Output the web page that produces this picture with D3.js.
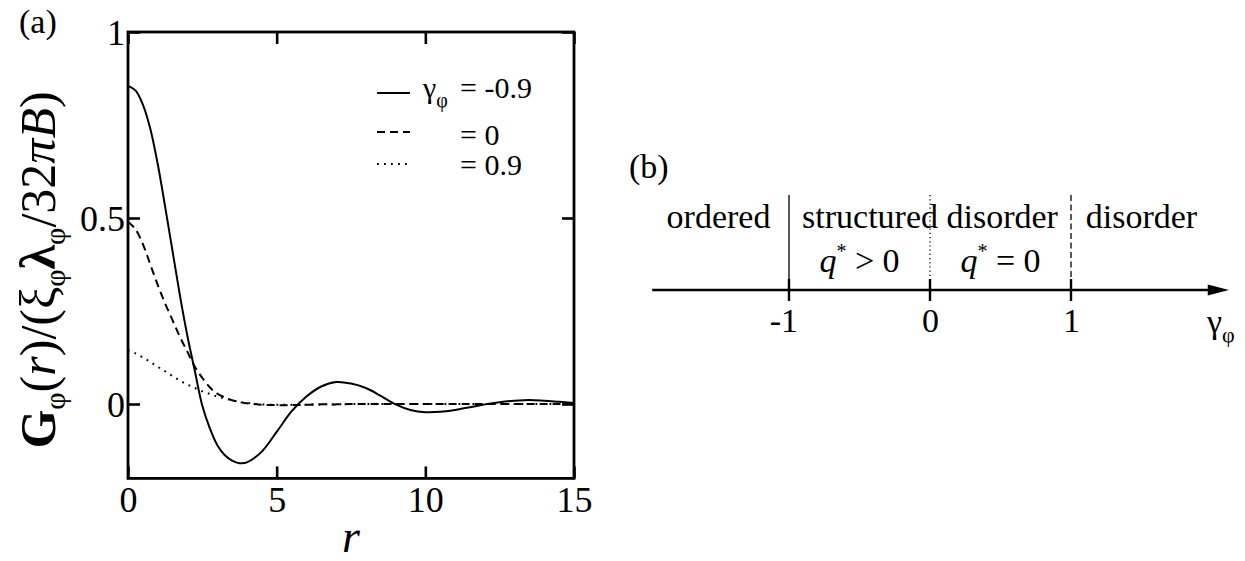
<!DOCTYPE html>
<html>
<head>
<meta charset="utf-8">
<script src="https://cdn.jsdelivr.net/npm/d3@7"></script>
<style>
  html, body { margin: 0; padding: 0; background: #fff; }
  svg { display: block; }
  text { font-family: "Liberation Serif", "Times New Roman", serif; fill: #000; }
</style>
</head>
<body>
<svg id="chart" width="1245" height="561"></svg>
<script>
// ---- Panel (a): correlation function G_phi(r) for three values of gamma_phi ----
const rGrid = [0, 0.25, 0.5, 0.75, 1, 1.25, 1.5, 1.75, 2, 2.25, 2.5, 2.75, 3, 3.25, 3.5, 3.75, 4,
               4.5, 5, 5.5, 6, 6.5, 7, 7.5, 8, 8.5, 9, 9.5, 10, 10.5, 11, 11.5, 12, 12.5, 13, 13.5, 14, 14.5, 15];
const gMinus09 = [0.855, 0.843, 0.805, 0.74, 0.645, 0.53, 0.41, 0.29, 0.182, 0.088, -0.005, -0.065, -0.11, -0.137, -0.152, -0.159, -0.157,
                  -0.128, -0.075, -0.02, 0.02, 0.047, 0.059, 0.055, 0.043, 0.022, -0.001, -0.016, -0.022, -0.021, -0.016, -0.009, -0.001, 0.005, 0.009, 0.011, 0.009, 0.006, 0.003];
const gZero = [0.49, 0.47, 0.43, 0.375, 0.32, 0.27, 0.225, 0.18, 0.14, 0.10, 0.07, 0.045, 0.028, 0.018, 0.01, 0.005, 0.002,
               -0.002, -0.003, -0.003, -0.002, -0.001, -0.001, 0, 0, 0, 0, 0, 0, 0, 0, 0, 0, 0, 0, 0, 0, 0, 0];
const gPlus09 = [0.145, 0.136, 0.125, 0.113, 0.100, 0.088, 0.075, 0.063, 0.052, 0.043, 0.034, 0.027, 0.02, 0.015, 0.01, 0.006, 0.003,
                 -0.001, -0.002, -0.002, -0.002, -0.001, -0.001, 0, 0, 0, 0, 0, 0, 0, 0, 0, 0, 0, 0, 0, 0, 0, 0];
const legendValues = ["-0.9", "0", "0.9"];
const xTickValues = [0, 5, 10, 15];
const yTickValues = [0, 0.5, 1];
const yTickLabels = ["0", "0.5", "1"];

// ---- Panel (b): phase line in gamma_phi ----
const gammaTicks = [-1, 0, 1];
const gammaTickLabels = ["-1", "0", "1"];
const regionNames = ["ordered", "structured disorder", "disorder"];
const regionCenters = [-1.5, 0, 1.5];
const qConditions = ["> 0", "= 0"];
const qCenters = [-0.5, 0.5];

const svg = d3.select("#chart");
const serif = '"Liberation Serif", "Times New Roman", serif';

// Plot frame of panel (a)
const box = { left: 128, right: 574, top: 32, bottom: 478.4 };
const x = d3.scaleLinear().domain([0, 15]).range([box.left, box.right]);
const y = d3.scaleLinear().domain([-0.2, 1]).range([box.bottom, box.top]);

const tickFont = 36;
const gA = svg.append("g");

function styleAxis(g) {
  g.select(".domain").remove();
  g.selectAll(".tick line").attr("stroke", "#000").attr("stroke-width", 2.6);
}

// bottom ticks with labels
gA.append("g")
  .attr("transform", `translate(0,${box.bottom})`)
  .call(d3.axisBottom(x).tickValues(xTickValues).tickSize(-12).tickSizeOuter(0).tickFormat(d3.format("d")))
  .call(styleAxis)
  .call(g => g.selectAll(".tick text")
    .attr("y", 34).attr("dy", 0)
    .style("font-family", serif).style("font-size", tickFont + "px"));

// top ticks
gA.append("g")
  .attr("transform", `translate(0,${box.top})`)
  .call(d3.axisTop(x).tickValues(xTickValues).tickSize(-12).tickSizeOuter(0).tickFormat(""))
  .call(styleAxis);

// left ticks with labels
gA.append("g")
  .attr("transform", `translate(${box.left},0)`)
  .call(d3.axisLeft(y).tickValues(yTickValues).tickSize(-12).tickSizeOuter(0)
    .tickFormat((d, i) => yTickLabels[i]))
  .call(styleAxis)
  .call(g => g.selectAll(".tick text")
    .attr("x", -3).attr("dy", "0.35em")
    .style("font-family", serif).style("font-size", tickFont + "px"));

// right ticks
gA.append("g")
  .attr("transform", `translate(${box.right},0)`)
  .call(d3.axisRight(y).tickValues(yTickValues).tickSize(-12).tickSizeOuter(0).tickFormat(""))
  .call(styleAxis);

// curves
const series = [
  { values: gMinus09, dash: null, width: 2.0 },
  { values: gZero, dash: "8,5", width: 2.0 },
  { values: gPlus09, dash: "1.8,5.2", width: 2.0 }
];

svg.append("clipPath").attr("id", "plotClip")
  .append("rect")
  .attr("x", box.left).attr("y", box.top)
  .attr("width", box.right - box.left).attr("height", box.bottom - box.top);

const line = d3.line()
  .x(d => x(d[0]))
  .y(d => y(d[1]))
  .curve(d3.curveCatmullRom.alpha(0.5));

gA.append("g").attr("clip-path", "url(#plotClip)")
  .selectAll("path")
  .data(series)
  .join("path")
  .attr("d", s => line(rGrid.map((r, i) => [r, s.values[i]])))
  .attr("fill", "none")
  .attr("stroke", "#000")
  .attr("stroke-width", s => s.width)
  .attr("stroke-dasharray", s => s.dash);

// frame
gA.append("rect")
  .attr("x", box.left).attr("y", box.top)
  .attr("width", box.right - box.left).attr("height", box.bottom - box.top)
  .attr("fill", "none").attr("stroke", "#000").attr("stroke-width", 2.8);

// legend
const legendRows = [
  { lineY: 93, textY: 98 },
  { lineY: 132, textY: 145 },
  { lineY: 164, textY: 175 }
];
const legendFont = 30;
const lg = gA.append("g");
series.forEach((s, i) => {
  lg.append("line")
    .attr("x1", 377).attr("x2", 410)
    .attr("y1", legendRows[i].lineY).attr("y2", legendRows[i].lineY)
    .attr("stroke", "#000").attr("stroke-width", s.width)
    .attr("stroke-dasharray", s.dash);
  if (i === 0) {
    const t = lg.append("text").attr("x", 423).attr("y", legendRows[i].textY)
      .style("font-size", legendFont + "px");
    t.append("tspan").text("γ");
    t.append("tspan").attr("dy", 9).style("font-size", "20px").text("φ");
  }
  lg.append("text").attr("x", 460).attr("y", legendRows[i].textY)
    .style("font-size", legendFont + "px")
    .text("= " + legendValues[i]);
});

// axis titles
svg.append("text")
  .attr("x", (box.left + box.right) / 2).attr("y", 552)
  .attr("text-anchor", "middle")
  .style("font-size", "46px").style("font-style", "italic")
  .text("r");

const yl = svg.append("text")
  .attr("transform", "translate(55,270) rotate(-90)")
  .attr("text-anchor", "middle")
  .style("font-size", "50px");
yl.append("tspan").style("font-weight", "bold").text("G");
yl.append("tspan").attr("dy", 10).style("font-size", "30px").text("φ");
yl.append("tspan").attr("dy", -10).text("(");
yl.append("tspan").style("font-style", "italic").text("r");
yl.append("tspan").text(")/(ξ");
yl.append("tspan").attr("dy", 10).style("font-size", "30px").text("φ");
yl.append("tspan").attr("dy", -10).style("font-weight", "bold").text("λ");
yl.append("tspan").attr("dy", 10).style("font-size", "30px").text("φ");
yl.append("tspan").attr("dy", -10).text("/32");
yl.append("tspan").style("font-style", "italic").text("πB");
yl.append("tspan").text(")");

svg.append("text").attr("x", 19).attr("y", 33)
  .style("font-size", "34px").text("(a)");

// ---- panel (b) ----
const gx = d3.scaleLinear().domain([-1, 1]).range([789, 1071]);
const axisY = 290;
const gB = svg.append("g");
const bFont = 34;

svg.append("text").attr("x", 629).attr("y", 178)
  .style("font-size", bFont + "px").text("(b)");

// main axis with arrow
gB.append("line")
  .attr("x1", gx(-1.97)).attr("x2", gx(2.0))
  .attr("y1", axisY).attr("y2", axisY)
  .attr("stroke", "#000").attr("stroke-width", 2.6);
gB.append("path")
  .attr("d", `M${gx(2.12)},${axisY} L${gx(1.97)},${axisY - 5.5} L${gx(1.97)},${axisY + 5.5} Z`)
  .attr("fill", "#000");

// boundaries between regimes
const boundaryDash = [null, "1.2,3", "6,3.5"];
gB.selectAll("line.boundary")
  .data(gammaTicks)
  .join("line")
  .attr("class", "boundary")
  .attr("x1", d => gx(d)).attr("x2", d => gx(d))
  .attr("y1", 195).attr("y2", axisY)
  .attr("stroke", "#000").attr("stroke-width", 1.3)
  .attr("stroke-dasharray", (d, i) => boundaryDash[i]);

// ticks on the axis
gB.selectAll("line.tick")
  .data(gammaTicks)
  .join("line")
  .attr("class", "tick")
  .attr("x1", d => gx(d)).attr("x2", d => gx(d))
  .attr("y1", axisY - 11).attr("y2", axisY + 11)
  .attr("stroke", "#000").attr("stroke-width", 2.4);

gB.selectAll("text.ticklabel")
  .data(gammaTicks)
  .join("text")
  .attr("class", "ticklabel")
  .attr("x", d => gx(d) + 9).attr("y", 332)
  .attr("text-anchor", "end")
  .style("font-size", bFont + "px")
  .text((d, i) => gammaTickLabels[i]);

// axis label gamma_phi
const gl = gB.append("text").attr("x", 1207).attr("y", 333).style("font-size", "34px");
gl.append("tspan").text("γ");
gl.append("tspan").attr("dy", 9).style("font-size", "22px").text("φ");

// regime names
gB.selectAll("text.region")
  .data(regionNames)
  .join("text")
  .attr("class", "region")
  .attr("x", (d, i) => gx(regionCenters[i])).attr("y", 228)
  .attr("text-anchor", "middle")
  .style("font-size", bFont + "px")
  .text(d => d);

// q* conditions
qConditions.forEach((c, i) => {
  const t = gB.append("text")
    .attr("x", gx(qCenters[i])).attr("y", 272)
    .attr("text-anchor", "middle")
    .style("font-size", bFont + "px");
  t.append("tspan").style("font-style", "italic").text("q");
  t.append("tspan").attr("dy", -14).style("font-size", "20px").text("*");
  t.append("tspan").attr("dy", 14).text(" " + c);
});
</script>
</body>
</html>
